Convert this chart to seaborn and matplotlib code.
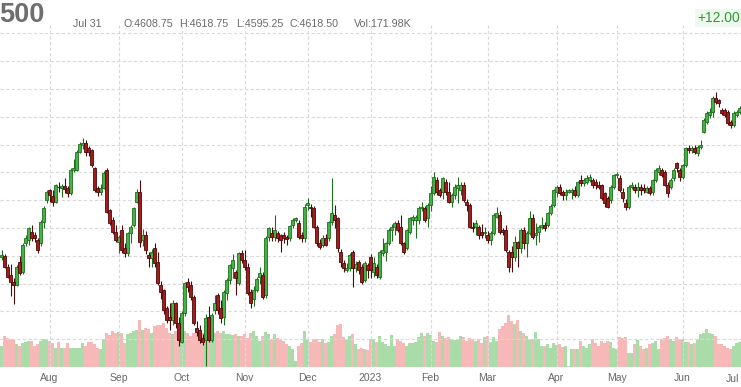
import numpy as np
import pandas as pd
import matplotlib
matplotlib.use("Agg")
import matplotlib.pyplot as plt
import seaborn as sns

# ---------------- data (daily bars, trading-day index) ----------------
opens = [
    3897, 3900, 3861, 3830, 3805, 3795, 3878, 3843, 3945, 3957,
    3987, 3975, 3957, 3945, 4023, 4101, 4137, 4115, 4095, 4149,
    4145, 4150, 4143, 4125, 4209, 4209, 4275, 4300, 4307, 4287,
    4281, 4215, 4143, 4130, 4143, 4209, 4065, 4029, 3987, 3950,
    3993, 3927, 3909, 3981, 4011, 4095, 4131, 3957, 3975, 3903,
    3891, 3927, 3879, 3795, 3777, 3711, 3680, 3669, 3729, 3657,
    3591, 3693, 3807, 3795, 3753, 3639, 3633, 3603, 3597, 3681,
    3597, 3705, 3759, 3711, 3681, 3765, 3813, 3855, 3843, 3801,
    3909, 3885, 3861, 3771, 3745, 3777, 3825, 3831, 3759, 3969,
    3981, 3969, 3981, 3975, 3975, 3969, 3963, 4011, 4029, 4017,
    3975, 3963, 4083, 4075, 4071, 4005, 3945, 3939, 3963, 3963,
    4023, 4047, 4035, 3915, 3873, 3849, 3855, 3915, 3855, 3879,
    3861, 3813, 3867, 3897, 3843, 3861, 3825, 3909, 3915, 3945,
    3993, 4005, 4017, 4005, 3945, 3927, 3987, 4029, 4029, 4029,
    4071, 4071, 4035, 4083, 4125, 4173, 4137, 4131, 4167, 4131,
    4095, 4119, 4143, 4137, 4155, 4095, 4083, 4005, 4005, 4005,
    3987, 3981, 3975, 3957, 3981, 4041, 4047, 3993, 3993, 3915,
    3915, 3897, 3951, 3927, 3993, 3945, 3981, 4035, 3975, 3987,
    4005, 4011, 4011, 4053, 4083, 4131, 4149, 4131, 4119, 4131,
    4131, 4137, 4119, 4173, 4161, 4167, 4173, 4173, 4167, 4155,
    4155, 4125, 4107, 4101, 4149, 4191, 4179, 4131, 4089, 4077,
    4149, 4147, 4137, 4149, 4143, 4131, 4143, 4131, 4173, 4203,
    4209, 4203, 4155, 4149, 4179, 4233, 4209, 4185, 4227, 4287,
    4281, 4287, 4269, 4293, 4347, 4383, 4407, 4419, 4467, 4461,
    4425, 4425, 4419, 4383, 4371, 4407, 4419,
]
highs = [
    3920, 3905, 3870, 3870, 3820, 3868, 3900, 3945, 3975, 4005,
    4010, 3985, 3965, 4030, 4080, 4135, 4140, 4135, 4160, 4167,
    4160, 4180, 4150, 4215, 4250, 4280, 4310, 4325, 4315, 4295,
    4285, 4220, 4150, 4160, 4205, 4215, 4070, 4040, 4010, 3975,
    4010, 3945, 3985, 4012, 4075, 4140, 4173, 3995, 3990, 3915,
    3925, 3945, 3915, 3810, 3780, 3720, 3730, 3740, 3735, 3680,
    3700, 3806, 3820, 3810, 3760, 3665, 3650, 3620, 3690, 3720,
    3695, 3760, 3765, 3740, 3778, 3820, 3872, 3905, 3850, 3915,
    3920, 3920, 3875, 3780, 3790, 3825, 3860, 3840, 3970, 4005,
    4005, 4047, 3990, 3980, 3985, 3975, 4012, 4035, 4040, 4030,
    3985, 4085, 4107, 4085, 4080, 4010, 3960, 3975, 3980, 4025,
    4180, 4083, 4040, 3925, 3885, 3875, 3910, 3920, 3880, 3885,
    3870, 3880, 3875, 3905, 3895, 3870, 3920, 3965, 3950, 4000,
    4015, 4025, 4030, 4045, 3950, 3998, 4040, 4045, 4045, 4080,
    4095, 4080, 4090, 4150, 4203, 4185, 4145, 4185, 4175, 4165,
    4125, 4160, 4185, 4165, 4165, 4105, 4090, 4020, 4030, 4010,
    4015, 4005, 3990, 3990, 4055, 4077, 4060, 4000, 4010, 3920,
    3935, 3970, 3955, 4000, 4005, 3990, 4060, 4050, 4017, 4010,
    4040, 4020, 4057, 4085, 4140, 4155, 4160, 4135, 4140, 4140,
    4145, 4150, 4170, 4190, 4180, 4190, 4195, 4180, 4175, 4170,
    4160, 4130, 4115, 4155, 4195, 4200, 4190, 4145, 4105, 4155,
    4165, 4160, 4167, 4160, 4160, 4150, 4150, 4178, 4215, 4225,
    4215, 4210, 4165, 4180, 4215, 4239, 4215, 4232, 4290, 4300,
    4295, 4300, 4298, 4315, 4395, 4420, 4430, 4475, 4489, 4465,
    4430, 4430, 4425, 4390, 4420, 4425, 4440,
]
lows = [
    3885, 3855, 3820, 3755, 3728, 3790, 3830, 3835, 3935, 3940,
    3955, 3950, 3910, 3935, 4000, 4090, 4095, 4080, 4090, 4131,
    4110, 4125, 4110, 4120, 4200, 4205, 4268, 4285, 4260, 4260,
    4220, 4130, 4115, 4120, 4140, 4055, 4010, 3980, 3950, 3910,
    3910, 3895, 3900, 3945, 4005, 4090, 3930, 3935, 3905, 3860,
    3860, 3860, 3795, 3745, 3690, 3660, 3633, 3650, 3640, 3575,
    3585, 3685, 3770, 3740, 3650, 3610, 3585, 3580, 3502, 3590,
    3590, 3690, 3690, 3660, 3650, 3740, 3800, 3820, 3759, 3795,
    3875, 3850, 3760, 3711, 3720, 3770, 3800, 3745, 3750, 3955,
    3955, 3955, 3950, 3915, 3945, 3940, 3955, 4000, 4020, 3960,
    3950, 3950, 4065, 4040, 4000, 3935, 3925, 3930, 3935, 3955,
    4010, 4000, 3915, 3860, 3840, 3840, 3845, 3789, 3840, 3835,
    3800, 3805, 3820, 3820, 3825, 3820, 3815, 3900, 3880, 3940,
    3955, 3975, 3985, 3940, 3905, 3920, 3980, 4010, 3963, 4015,
    4060, 4020, 4005, 4060, 4120, 4120, 4110, 4105, 4120, 4090,
    4077, 4105, 4090, 4120, 4095, 4060, 4000, 3985, 3975, 3960,
    3965, 3965, 3945, 3940, 3975, 4035, 3980, 3975, 3915, 3843,
    3843, 3880, 3861, 3910, 3925, 3897, 3975, 3960, 3939, 3950,
    3995, 3990, 4005, 4045, 4075, 4110, 4120, 4100, 4100, 4125,
    4105, 4110, 4110, 4150, 4150, 4160, 4165, 4145, 4140, 4140,
    4100, 4075, 4071, 4090, 4140, 4180, 4130, 4095, 4065, 4070,
    4140, 4125, 4113, 4120, 4125, 4125, 4120, 4120, 4165, 4190,
    4185, 4150, 4113, 4140, 4170, 4200, 4170, 4175, 4220, 4270,
    4270, 4265, 4260, 4285, 4340, 4375, 4395, 4400, 4445, 4435,
    4405, 4400, 4370, 4360, 4365, 4400, 4410,
]
closes = [
    3902, 3861, 3825, 3805, 3795, 3861, 3837, 3939, 3963, 3999,
    3963, 3963, 3921, 4023, 4071, 4131, 4119, 4095, 4155, 4146,
    4150, 4141, 4125, 4209, 4215, 4275, 4303, 4305, 4275, 4275,
    4227, 4137, 4131, 4143, 4197, 4059, 4017, 3987, 3957, 3966,
    3921, 3909, 3981, 4005, 4071, 4131, 3951, 3975, 3921, 3891,
    3915, 3873, 3801, 3771, 3705, 3669, 3669, 3729, 3657, 3597,
    3693, 3801, 3789, 3753, 3657, 3627, 3597, 3591, 3675, 3597,
    3687, 3731, 3705, 3675, 3771, 3813, 3867, 3885, 3819, 3909,
    3885, 3861, 3765, 3729, 3777, 3815, 3837, 3753, 3963, 3999,
    3969, 3993, 3963, 3957, 3963, 3960, 4007, 4029, 4035, 3969,
    3963, 4077, 4089, 4071, 4005, 3945, 3933, 3963, 3939, 4023,
    4053, 4029, 3927, 3879, 3855, 3855, 3903, 3855, 3871, 3849,
    3807, 3873, 3849, 3849, 3873, 3831, 3915, 3921, 3945, 3993,
    4005, 4017, 3993, 3945, 3915, 3993, 4035, 4041, 4041, 4071,
    4077, 4029, 4083, 4125, 4185, 4131, 4119, 4179, 4131, 4095,
    4119, 4149, 4155, 4155, 4101, 4083, 4005, 3999, 4017, 3975,
    3975, 3987, 3957, 3981, 4047, 4053, 3987, 3987, 3921, 3861,
    3897, 3951, 3927, 3993, 3945, 3981, 4035, 3969, 3981, 4005,
    4011, 3999, 4053, 4079, 4137, 4149, 4125, 4119, 4131, 4137,
    4137, 4119, 4167, 4161, 4173, 4179, 4185, 4155, 4155, 4149,
    4107, 4089, 4077, 4149, 4191, 4193, 4137, 4107, 4077, 4149,
    4155, 4135, 4149, 4137, 4137, 4145, 4125, 4173, 4209, 4215,
    4191, 4155, 4125, 4173, 4209, 4215, 4185, 4227, 4287, 4281,
    4287, 4275, 4293, 4299, 4389, 4413, 4419, 4467, 4455, 4449,
    4413, 4407, 4377, 4371, 4413, 4419, 4431,
]
volumes = [  # thousands of contracts
    1260, 1860, 1760, 1660, 1700, 1360, 1260, 1460, 1500, 1560,
    1560, 1260, 1360, 1560, 1700, 1620, 1560, 1460, 1160, 1500,
    1160, 1120, 1460, 1160, 1160, 1140, 1140, 1460, 1260, 1500,
    1500, 1360, 1160, 1100, 1660, 2020, 1900, 2160, 2060, 2120,
    2060, 1460, 2000, 2060, 2160, 2220, 2820, 2220, 2360, 2260,
    2060, 2460, 2500, 2500, 2620, 2360, 2060, 1960, 2160, 2060,
    2260, 2160, 2060, 1860, 2060, 2060, 2160, 2060, 2460, 2360,
    2160, 2060, 2160, 2020, 2160, 1960, 1960, 1900, 1960, 1860,
    1860, 1960, 1760, 2060, 2160, 1860, 1560, 1860, 2120, 1960,
    1660, 1960, 1760, 1700, 1560, 1360, 1260, 1100, 360, 1260,
    1460, 2160, 1660, 1500, 1700, 1660, 1500, 1660, 1460, 1500,
    1860, 1960, 2500, 2560, 1820, 1660, 1860, 1960, 1360, 1060,
    1160, 1100, 1020, 1660, 1660, 1500, 1860, 1500, 1360, 1260,
    1900, 1260, 1700, 1560, 1460, 1260, 1460, 1460, 1500, 1820,
    2020, 1860, 2060, 1940, 1560, 1500, 2120, 1860, 1760, 1820,
    1660, 1620, 1700, 1860, 1820, 1560, 1760, 1660, 1560, 1660,
    1460, 1820, 1860, 1500, 1820, 1560, 2260, 2460, 2660, 3100,
    2760, 2560, 2820, 2160, 2060, 1860, 1660, 1660, 2100, 1700,
    1260, 1260, 1360, 1160, 1460, 1300, 1360, 1200, 1260, 60,
    1060, 1060, 1100, 1560, 1260, 1160, 1360, 1660, 1420, 1260,
    1560, 1460, 1560, 1500, 1160, 1060, 1820, 1760, 1820, 860,
    860, 1360, 1620, 1260, 1060, 1160, 1360, 1460, 1560, 1100,
    1660, 1760, 1860, 1700, 1560, 1820, 1700, 1660, 1500, 1500,
    1360, 1460, 1660, 1960, 2060, 2260, 2060, 1960, 1860, 1360,
    1360, 1260, 1160, 1060, 1260, 1460, 1500,
]
month_labels = ["Aug", "Sep", "Oct", "Nov", "Dec", "2023",
                "Feb", "Mar", "Apr", "May", "Jun", "Jul"]
month_start_bar = [16, 39, 60, 81, 102, 123, 143, 162, 185, 205, 227, 248]
price_grid = [3600, 3700, 3800, 3900, 4000, 4100, 4200, 4300, 4400, 4500, 4600, 4700]

header_symbol = "500"
header_date = "Jul 31"
header_fields = ["O:4608.75", "H:4618.75", "L:4595.25", "C:4618.50", "Vol:171.98K"]
header_change = "+12.00"

# ---------------- build frame ----------------
df = pd.DataFrame({"open": opens, "high": highs, "low": lows,
                   "close": closes, "volume": volumes})
df["bar"] = np.arange(len(df))
df["dir"] = np.where(df["close"] >= df["open"], "up", "down")

# ---------------- style ----------------
sns.set_theme(style="white")
plt.rcParams["font.family"] = ["Liberation Sans", "DejaVu Sans"]

W, H = 741, 387
fig = plt.figure(figsize=(W / 100, H / 100), dpi=100)
ax_bottom = (H - 367) / H
ax_top = (H - 25) / H
ax = fig.add_axes([0, ax_bottom, 1, ax_top - ax_bottom])
vax = ax.twinx()

# volume (behind)
vol_pal = {"up": "#a9dca9", "down": "#f7b8b8"}
sns.barplot(data=df, x="bar", y="volume", hue="dir", palette=vol_pal,
            native_scale=True, dodge=False, width=1.0, saturation=1,
            errorbar=None, legend=False, linewidth=0, ax=vax)
vax.set_ylim(0, 342 * 60)
vax.set_axis_off()

ax.set_zorder(vax.get_zorder() + 1)
ax.patch.set_visible(False)

# candles
up = df[df["dir"] == "up"]
dn = df[df["dir"] == "down"]
ax.vlines(up["bar"], up["low"], up["high"], colors="#1f6e1f", linewidth=0.8, zorder=3)
ax.vlines(dn["bar"], dn["low"], dn["high"], colors="#4a0b0b", linewidth=0.8, zorder=3)
body_up = np.maximum((up["close"] - up["open"]).abs(), 2)
body_dn = np.maximum((dn["close"] - dn["open"]).abs(), 2)
ax.bar(up["bar"], body_up, bottom=np.minimum(up["open"], up["close"]), width=0.72,
       color="#43b343", edgecolor="#1f6e1f", linewidth=0.6, zorder=4)
ax.bar(dn["bar"], body_dn, bottom=np.minimum(dn["open"], dn["close"]), width=0.72,
       color="#a31b1b", edgecolor="#4a0b0b", linewidth=0.6, zorder=4)

ax.set_xlim(-0.5, 246.5)
ax.set_ylim(3500, 3500 + 342 * 100 / 27.8)

# grid
ax.set_yticks(price_grid)
ax.set_yticklabels([])
ax.set_xticks(month_start_bar[:-1])
ax.set_xticklabels(month_labels[:-1], fontsize=7.5, color="#666666")
ax.tick_params(axis="both", length=0, pad=4)
ax.grid(True, which="major", axis="both", color="#d9d9d9",
        linestyle=(0, (3, 2)), linewidth=0.8)
ax.set_axisbelow(True)
for s in ax.spines.values():
    s.set_visible(False)
for s in vax.spines.values():
    s.set_visible(False)

# last month label, kept fully inside the right edge
fig.text(739 / W, 1 - 374 / H, month_labels[-1], ha="right", va="top",
         fontsize=7.5, color="#666666")

# ---------------- header ----------------
def fx(px):
    return px / W

def fy(py):
    return 1 - py / H

fig.text(fx(-1), fy(22), header_symbol, fontsize=19.5, fontweight="bold",
         color="#6e6e6e", ha="left", va="baseline")
fig.text(fx(73), fy(27), header_date, fontsize=7.7, color="#6a6a6a", ha="left", va="baseline")
for xpos, t in zip([123, 179, 236, 290, 354], header_fields):
    fig.text(fx(xpos), fy(27), t, fontsize=7.7, color="#6a6a6a", ha="left", va="baseline")
fig.text(fx(740), fy(22), header_change, fontsize=10, color="#2f9a2f", ha="right",
         va="baseline", bbox=dict(boxstyle="square,pad=0.15", facecolor="#eef8ee",
                                  edgecolor="none"))

fig.savefig("out.png", dpi=100)
